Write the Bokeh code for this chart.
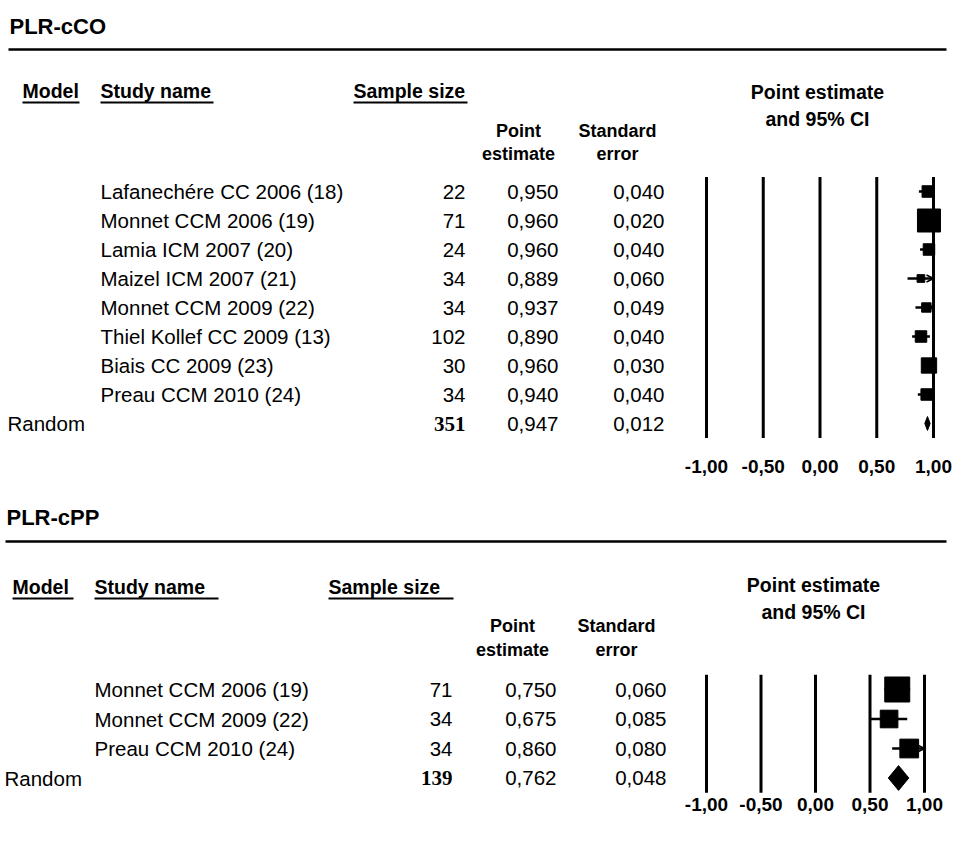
from bokeh.plotting import figure
from bokeh.models import Range1d, Arrow, OpenHead, ColumnDataSource
from bokeh.core.properties import value
from bokeh.embed import file_html
from bokeh.resources import INLINE

# ---------------- data ----------------
cco_studies = ["Lafanechére CC 2006 (18)", "Monnet CCM 2006 (19)", "Lamia ICM 2007 (20)",
               "Maizel ICM 2007 (21)", "Monnet CCM 2009 (22)", "Thiel Kollef CC 2009 (13)",
               "Biais CC 2009 (23)", "Preau CCM 2010 (24)"]
cco_n = [22, 71, 24, 34, 34, 102, 30, 34]
cco_est = [0.950, 0.960, 0.960, 0.889, 0.937, 0.890, 0.960, 0.940]
cco_se = [0.040, 0.020, 0.040, 0.060, 0.049, 0.040, 0.030, 0.040]
cco_total_n = 351
cco_pooled_est = 0.947
cco_pooled_se = 0.012

cpp_studies = ["Monnet CCM 2006 (19)", "Monnet CCM 2009 (22)", "Preau CCM 2010 (24)"]
cpp_n = [71, 34, 34]
cpp_est = [0.750, 0.675, 0.860]
cpp_se = [0.060, 0.085, 0.080]
cpp_total_n = 139
cpp_pooled_est = 0.762
cpp_pooled_se = 0.048

ticks = [-1.0, -0.5, 0.0, 0.5, 1.0]
tick_labels = ["-1,00", "-0,50", "0,00", "0,50", "1,00"]

# ---------------- layout ----------------
W, H = 954, 841
X0, Y0 = 0, 0
SANS = value("Liberation Sans")
SERIF = value("Liberation Serif")


def px_range(v1, p1, v2, p2, lo_px, hi_px):
    b = (p2 - p1) / (v2 - v1)
    return Range1d(start=v1 + (lo_px - p1) / b, end=v1 + (hi_px - p1) / b)


p = figure(width=W, height=H, x_range=Range1d(X0, X0 + W), y_range=Range1d(Y0 + H, Y0),
           x_axis_type=None, y_axis_type=None, output_backend="svg",
           toolbar_location=None, min_border=0)
p.grid.visible = False
p.outline_line_color = None
p.background_fill_color = "white"
p.border_fill_color = "white"


def fmt(v):
    return f"{v:.3f}".replace(".", ",")


def label(x, y, t, size="20px", bold=False, align="left", font=SANS, **kw):
    p.text(x=[x], y=[y], text=[t], text_font=font, text_font_size=size,
           text_font_style="bold" if bold else "normal", text_align=align,
           text_baseline="middle", text_color="black", **kw)


def panel(cfg, studies, ns, est, se, tot_n, pooled, pooled_se):
    ci, row = cfg["ci"], cfg["row"]
    p.extra_x_ranges[ci] = px_range(-1, cfg["xm1"], 1, cfg["xp1"], X0, X0 + W)
    p.extra_y_ranges[row] = px_range(0, cfg["r0"], 1, cfg["r0"] + cfg["step"], Y0 + H, Y0)
    n = len(studies)

    # title and rule
    label(cfg["title_x"], cfg["title_y"], cfg["title"], size="22px", bold=True)
    p.segment(x0=[cfg["rule_x0"]], x1=[946], y0=[cfg["rule_y"]], y1=[cfg["rule_y"]],
              line_color="black", line_width=2.5)

    # headers
    hy = cfg["h1_y"]
    for (txt, x0, x1) in cfg["heads"]:
        label(x0, hy, txt, size="19.5px", bold=True)
        p.segment(x0=[x0], x1=[x1], y0=[cfg["ul_y"]], y1=[cfg["ul_y"]],
                  line_color="black", line_width=2)
    label(cfg["pe_x"], cfg["pe_y1"], "Point estimate", size="19.5px", bold=True, align="center")
    label(cfg["pe_x"], cfg["pe_y2"], "and 95% CI", size="19.5px", bold=True, align="center")
    label(cfg["c1_x"], cfg["h2_y1"], "Point", size="18px", bold=True, align="center")
    label(cfg["c1_x"], cfg["h2_y2"], "estimate", size="18px", bold=True, align="center")
    label(cfg["c2_x"], cfg["h2_y1"], "Standard", size="18px", bold=True, align="center")
    label(cfg["c2_x"], cfg["h2_y2"], "error", size="18px", bold=True, align="center")

    # table rows
    rows = list(range(n))
    src = ColumnDataSource(dict(
        row=rows, name=studies, n=[str(v) for v in ns],
        est_t=[fmt(v) for v in est], se_t=[fmt(v) for v in se]))
    common = dict(source=src, y="row", y_range_name=row, text_font=SANS,
                  text_font_size="20.5px", text_baseline="middle", text_color="black")
    p.text(x=cfg["name_x"], text="name", text_align="left", **common)
    p.text(x=cfg["n_x"], text="n", text_align="right", **common)
    p.text(x=cfg["est_x"], text="est_t", text_align="right", **common)
    p.text(x=cfg["se_x"], text="se_t", text_align="right", **common)

    # pooled row
    p.text(x=[cfg["rand_x"]], y=[n], text=["Random"], y_range_name=row, text_font=SANS,
           text_font_size="20.5px", text_baseline="middle", text_align="left")
    p.text(x=[cfg["n_x"]], y=[n], text=[str(tot_n)], y_range_name=row, text_font=SERIF,
           text_font_size="21px", text_font_style="bold", text_baseline="middle",
           text_align="right")
    p.text(x=[cfg["est_x"]], y=[n], text=[fmt(pooled)], y_range_name=row, text_font=SANS,
           text_font_size="20.5px", text_baseline="middle", text_align="right")
    p.text(x=[cfg["se_x"]], y=[n], text=[fmt(pooled_se)], y_range_name=row, text_font=SANS,
           text_font_size="20.5px", text_baseline="middle", text_align="right")

    # reference lines at the ticks
    p.segment(x0=ticks, x1=ticks, y0=[-0.5] * len(ticks), y1=[n + 0.5] * len(ticks),
              x_range_name=ci, y_range_name=row, line_color="black", line_width=3)
    p.text(x=ticks, y=[cfg["tick_y"]] * len(ticks), text=tick_labels, x_range_name=ci,
           text_font=SANS, text_font_size="19px", text_font_style="bold",
           text_align="center", text_baseline="middle")

    # CIs
    lo = [e - 1.96 * s for e, s in zip(est, se)]
    hi = [e + 1.96 * s for e, s in zip(est, se)]
    hi_c = [min(h, ticks[-1]) for h in hi]
    ci_src = ColumnDataSource(dict(x0=lo, x1=hi_c, y=rows))
    p.segment(x0="x0", x1="x1", y0="y", y1="y", source=ci_src, x_range_name=ci,
              y_range_name=row, line_color="black", line_width=2.5)
    clipped = [i for i in rows if hi[i] > ticks[-1]]
    if clipped:
        arr_src = ColumnDataSource(dict(x0=[lo[i] for i in clipped],
                                        x1=[hi_c[i] for i in clipped],
                                        y=clipped))
        p.add_layout(Arrow(end=OpenHead(size=7, line_width=1.5, line_color="black"),
                           x_start="x0", y_start="y", x_end="x1", y_end="y",
                           source=arr_src, x_range_name=ci, y_range_name=row,
                           line_width=0, line_alpha=0))

    # weight squares (side proportional to 1/se)
    smin = min(se)
    sizes = [cfg["max_sq"] * smin / s for s in se]
    p.scatter(x=est, y=rows, size=sizes, marker="square", x_range_name=ci,
              y_range_name=row, fill_color="black", line_color="black")

    # pooled diamond
    h = cfg["dia_h"]
    p.patches(xs=[[pooled - 1.96 * pooled_se, pooled, pooled + 1.96 * pooled_se, pooled]],
              ys=[[n, n - h, n, n + h]], x_range_name=ci, y_range_name=row,
              fill_color="black", line_color="black")


top_cfg = dict(ci="ci1", row="row1", xm1=706, xp1=933, r0=191, step=29,
               title="PLR-cCO", title_x=9, title_y=26, rule_x0=8, rule_y=49,
               heads=[("Model", 22, 79), ("Study name", 100, 213), ("Sample size", 353, 467)],
               h1_y=90, ul_y=102, pe_x=817, pe_y1=91, pe_y2=118,
               c1_x=518, c2_x=617, h2_y1=130, h2_y2=153,
               name_x=100, n_x=465, est_x=558, se_x=664, rand_x=7,
               tick_y=466, max_sq=23, dia_h=0.24)
bot_cfg = dict(ci="ci2", row="row2", xm1=706, xp1=924, r0=689, step=29.5,
               title="PLR-cPP", title_x=6, title_y=517, rule_x0=5, rule_y=541,
               heads=[("Model", 12, 73), ("Study name", 94, 218), ("Sample size", 328, 453)],
               h1_y=586, ul_y=598, pe_x=813, pe_y1=584, pe_y2=611,
               c1_x=512, c2_x=616, h2_y1=625, h2_y2=649,
               name_x=94, n_x=452, est_x=556, se_x=666, rand_x=4,
               tick_y=804, max_sq=25, dia_h=0.42)

panel(top_cfg, cco_studies, cco_n, cco_est, cco_se, cco_total_n, cco_pooled_est, cco_pooled_se)
panel(bot_cfg, cpp_studies, cpp_n, cpp_est, cpp_se, cpp_total_n, cpp_pooled_est, cpp_pooled_se)

open("out.html", "w").write(file_html(p, INLINE))
